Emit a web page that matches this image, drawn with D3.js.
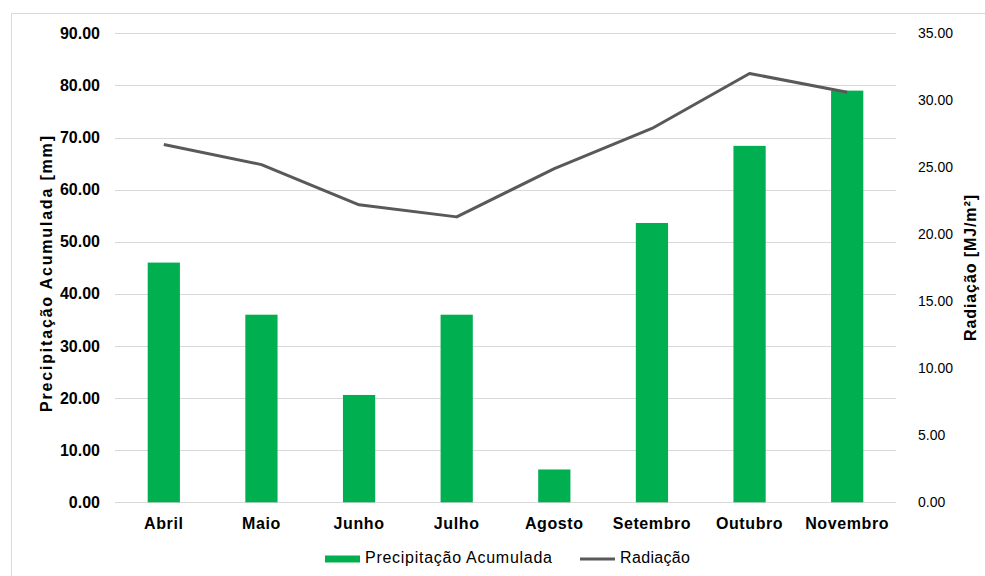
<!DOCTYPE html>
<html>
<head>
<meta charset="utf-8">
<script src="https://cdn.jsdelivr.net/npm/d3@7"></script>
<style>
  body { margin: 0; background: #fff; }
  svg { font-family: "Liberation Sans", Arial, sans-serif; }
</style>
</head>
<body>
<div id="chart"></div>
<script>
// data
const months = ["Abril", "Maio", "Junho", "Julho", "Agosto", "Setembro", "Outubro", "Novembro"];
const precip = [46.0, 36.0, 20.6, 36.0, 6.3, 53.6, 68.4, 79.0];
const radiacao = [26.7, 25.2, 22.2, 21.3, 24.9, 27.9, 32.0, 30.6];
const leftTicks = [0, 10, 20, 30, 40, 50, 60, 70, 80, 90];
const rightTicks = [0, 5, 10, 15, 20, 25, 30, 35];

const width = 985, height = 576;
const plot = { left: 115, right: 896, top: 33.3, bottom: 502.3 };

const svg = d3.select("#chart")
    .append("svg")
    .attr("width", width)
    .attr("height", height);

// outer chart frame
svg.append("rect")
    .attr("x", 11.5).attr("y", 13.5)
    .attr("width", 1000).attr("height", 600)
    .attr("fill", "none")
    .attr("stroke", "#d9d9d9");

const x = d3.scaleBand()
    .domain(months)
    .range([plot.left, plot.right])
    .paddingInner(0.67)
    .paddingOuter(0.335);

const yL = d3.scaleLinear().domain([0, 90]).range([plot.bottom, plot.top]);
const yR = d3.scaleLinear().domain([0, 35]).range([plot.bottom, plot.top]);

// gridlines
svg.append("g")
    .selectAll("line")
    .data(leftTicks)
    .join("line")
    .attr("x1", plot.left).attr("x2", plot.right)
    .attr("y1", d => Math.round(yL(d)) + 0.5)
    .attr("y2", d => Math.round(yL(d)) + 0.5)
    .attr("stroke", "#d9d9d9")
    .attr("stroke-width", 1);

// left axis labels
const leftAxis = svg.append("g")
    .attr("transform", `translate(${plot.left - 15},0)`)
    .call(d3.axisLeft(yL).tickValues(leftTicks).tickFormat(d3.format(".2f")).tickSize(0).tickPadding(0));
leftAxis.select(".domain").remove();
leftAxis.selectAll("text")
    .attr("font-size", 16).attr("font-weight", "bold").attr("fill", "#000")
    .attr("font-family", "Liberation Sans, Arial, sans-serif");

// right axis labels
const rightAxis = svg.append("g")
    .attr("transform", `translate(${plot.right + 22},0)`)
    .call(d3.axisRight(yR).tickValues(rightTicks).tickFormat(d3.format(".2f")).tickSize(0).tickPadding(0));
rightAxis.select(".domain").remove();
rightAxis.selectAll("text")
    .attr("font-size", 14).attr("fill", "#000")
    .attr("font-family", "Liberation Sans, Arial, sans-serif");

// bars
svg.append("g")
    .selectAll("rect")
    .data(precip)
    .join("rect")
    .attr("x", (d, i) => x(months[i]))
    .attr("width", x.bandwidth())
    .attr("y", d => yL(d))
    .attr("height", d => yL(0) - yL(d))
    .attr("fill", "#00b050");

// radiation line
const line = d3.line()
    .x((d, i) => x(months[i]) + x.bandwidth() / 2)
    .y(d => yR(d));

svg.append("path")
    .datum(radiacao)
    .attr("d", line)
    .attr("fill", "none")
    .attr("stroke", "#595959")
    .attr("stroke-width", 3)
    .attr("stroke-linejoin", "round");

// category labels
const xAxis = svg.append("g")
    .attr("transform", `translate(0,${plot.bottom})`)
    .call(d3.axisBottom(x).tickSize(0).tickPadding(15));
xAxis.select(".domain").remove();
xAxis.selectAll("text")
    .attr("font-size", 16).attr("font-weight", "bold").attr("fill", "#000")
    .attr("letter-spacing", 0.6)
    .attr("font-family", "Liberation Sans, Arial, sans-serif");

// axis titles
svg.append("text")
    .attr("transform", "translate(52,274) rotate(-90)")
    .attr("text-anchor", "middle")
    .attr("font-size", 16).attr("font-weight", "bold")
    .attr("textLength", 276).attr("lengthAdjust", "spacing")
    .text("Precipitação Acumulada [mm]");

svg.append("text")
    .attr("transform", "translate(976,268) rotate(-90)")
    .attr("text-anchor", "middle")
    .attr("font-size", 16).attr("font-weight", "bold")
    .attr("textLength", 146).attr("lengthAdjust", "spacing")
    .text("Radiação [MJ/m²]");

// legend
const legend = svg.append("g").attr("font-size", 16);
legend.append("rect")
    .attr("x", 325).attr("y", 555.5).attr("width", 35).attr("height", 7)
    .attr("fill", "#00b050");
legend.append("text")
    .attr("x", 365).attr("y", 563)
    .attr("textLength", 187).attr("lengthAdjust", "spacing")
    .text("Precipitação Acumulada");
legend.append("line")
    .attr("x1", 580).attr("x2", 615).attr("y1", 559).attr("y2", 559)
    .attr("stroke", "#595959").attr("stroke-width", 3);
legend.append("text")
    .attr("x", 620).attr("y", 563)
    .attr("textLength", 70).attr("lengthAdjust", "spacing")
    .text("Radiação");
</script>
</body>
</html>
